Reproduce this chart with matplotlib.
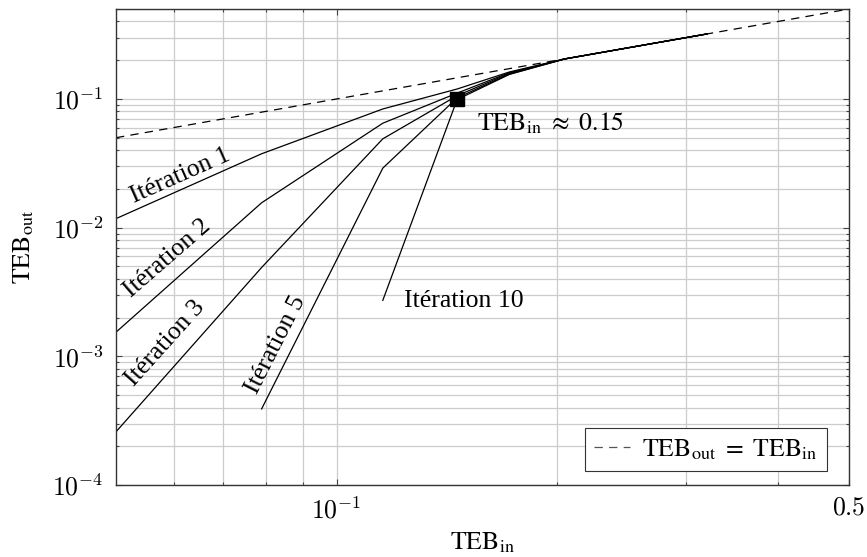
import numpy as np
import matplotlib
matplotlib.use('Agg')
import matplotlib.pyplot as plt
from matplotlib.ticker import NullFormatter, FixedLocator
from matplotlib.font_manager import FontProperties

plt.rcParams['font.family'] = ['Liberation Serif', 'DejaVu Serif']
plt.rcParams['mathtext.fontset'] = 'cm'
plt.rcParams['lines.scale_dashes'] = False

# TEB_in sample points
teb_in = [0.05, 0.079, 0.1156, 0.146, 0.172, 0.205, 0.32]

# TEB_out per iteration, nan where the curve is not drawn
iter1 = [0.01175, 0.0375, 0.0836, 0.1195, 0.162, 0.205, 0.32]
iter2 = [0.00154, 0.0156, 0.0648, 0.111, 0.160, 0.205, 0.32]
iter3 = [0.000259, 0.0049, 0.049, 0.106, 0.158, 0.205, 0.32]
iter5 = [np.nan, 0.00039, 0.029, 0.102, 0.156, 0.205, 0.32]
iter10 = [np.nan, np.nan, 0.00272, 0.099, 0.155, 0.205, 0.32]

diag = [0.05, 0.5]
threshold = (0.146, 0.1)

fs = 18.5
teb_font = FontProperties(family='Liberation Serif', size=fs, math_fontfamily='stix')

fig = plt.figure(figsize=(8.67, 5.57), dpi=100)
ax = fig.add_axes([0.1338, 0.1293, 0.8454, 0.8545])

ax.plot(diag, diag, color='black', lw=0.9, dashes=(6, 4.5),
        label=r'$\mathrm{TEB}_{\mathrm{out}}\ =\ \mathrm{TEB}_{\mathrm{in}}$')
for ys in [iter1, iter2, iter3, iter5, iter10]:
    ax.plot(teb_in, ys, color='black', lw=0.9)

ax.plot([threshold[0]], [threshold[1]], 's', color='black', ms=9.5, zorder=5)

ax.set_xscale('log')
ax.set_yscale('log')
ax.set_xlim(0.05, 0.5)
ax.set_ylim(1e-4, 0.5)

ax.set_xticks([0.1, 0.5])
ax.set_xticklabels([r'$10^{-1}$', r'$0.5$'])
ax.xaxis.set_minor_locator(FixedLocator([0.06, 0.07, 0.08, 0.09, 0.2, 0.3, 0.4]))
ax.xaxis.set_minor_formatter(NullFormatter())
ax.set_yticks([1e-4, 1e-3, 1e-2, 1e-1])
ax.set_yticklabels([r'$10^{-4}$', r'$10^{-3}$', r'$10^{-2}$', r'$10^{-1}$'])
ax.yaxis.set_minor_formatter(NullFormatter())

ax.tick_params(which='both', direction='in', top=True, right=True,
               labelsize=fs, color='#444444', width=0.8)
ax.tick_params(which='major', length=4.5, pad=9)
ax.tick_params(which='minor', length=2.5)

ax.grid(which='both', color='#cccccc', lw=0.9)
ax.set_axisbelow(True)
for s in ax.spines.values():
    s.set_linewidth(1.0)
    s.set_color('#333333')

ax.set_xlabel(r'$\mathrm{TEB}_{\mathrm{in}}$', fontproperties=teb_font, labelpad=5)
ax.set_ylabel(r'$\mathrm{TEB}_{\mathrm{out}}$', fontproperties=teb_font, labelpad=12)

# curve labels
txt = dict(fontsize=fs, ha='center', va='center', rotation_mode='anchor')
ax.text(0.0611, 0.0253, 'Itération 1', rotation=24, **txt)
ax.text(0.0588, 0.00575, 'Itération 2', rotation=41, **txt)
ax.text(0.0584, 0.00126, 'Itération 3', rotation=48, **txt)
ax.text(0.0825, 0.00122, 'Itération 5', rotation=63, **txt)
ax.text(0.1235, 0.00267, 'Itération 10', fontsize=fs, ha='left', va='center')
ax.text(0.1553, 0.0652, r'$\mathrm{TEB}_{\mathrm{in}}\ \approx\ 0.15$',
        fontproperties=teb_font, ha='left', va='center')

leg = ax.legend(loc='lower right', bbox_to_anchor=(0.970, 0.0294),
                prop=teb_font, fancybox=False, framealpha=1, edgecolor='#333333',
                handlelength=1.4, handletextpad=0.5, borderpad=0.35,
                borderaxespad=0)
leg.get_frame().set_linewidth(0.8)
leg.get_lines()[0].set_color('#555555')

fig.savefig('out.png', dpi=100)
